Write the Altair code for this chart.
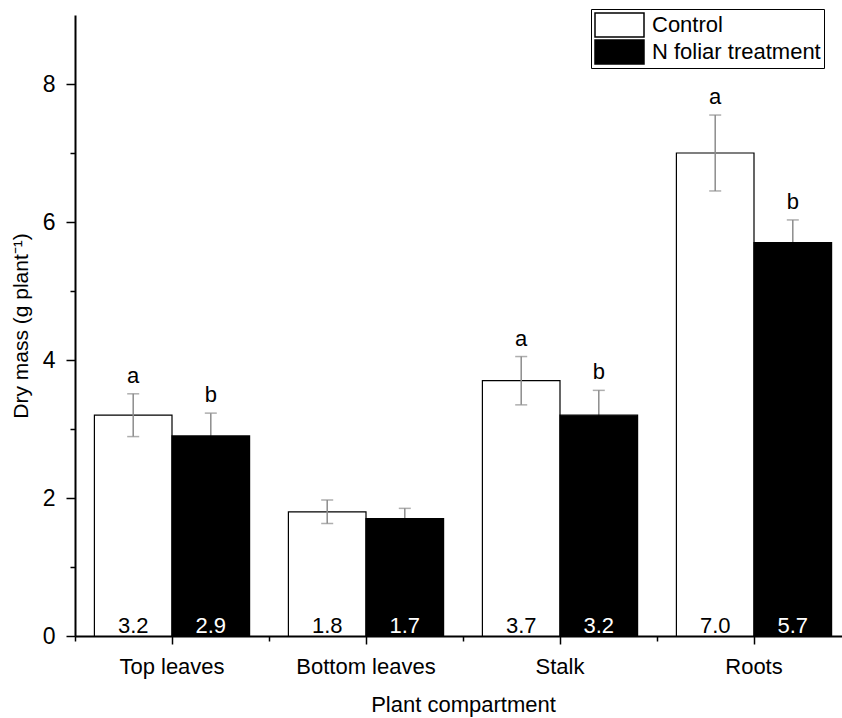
import altair as alt
import pandas as pd

# Dry mass per plant compartment, control vs. N foliar treatment
categories = ["Top leaves", "Bottom leaves", "Stalk", "Roots"]
treatments = ["Control", "N foliar treatment"]
control_mass = [3.2, 1.8, 3.7, 7.0]
foliar_mass = [2.9, 1.7, 3.2, 5.7]
control_err = [0.31, 0.17, 0.35, 0.55]
foliar_err = [0.33, 0.15, 0.36, 0.33]
control_letter = ["a", "", "a", "a"]
foliar_letter = ["b", "", "b", "b"]

rows = []
for i, part in enumerate(categories):
    rows.append(dict(part=part, trt=treatments[0], mass=control_mass[i],
                     err=control_err[i], letter=control_letter[i]))
    rows.append(dict(part=part, trt=treatments[1], mass=foliar_mass[i],
                     err=foliar_err[i], letter=foliar_letter[i]))
df = pd.DataFrame(rows)
df["lo"] = df["mass"] - df["err"]
df["hi"] = df["mass"] + df["err"]
df["label"] = df["mass"].map(lambda v: f"{v:.1f}")

FONT = "Liberation Sans"
ERR = "#8c8c8c"

x_scale = alt.Scale(range=[0, 776], paddingInner=0, paddingOuter=0)
off = alt.XOffset("trt:N", sort=treatments,
                  scale=alt.Scale(paddingInner=0, paddingOuter=0.25))

y_scale = alt.Scale(domain=[0, 9], nice=False, zero=True)
y_axis = alt.Axis(
    values=list(range(0, 9)),
    labelExpr="datum.value % 2 == 0 ? datum.label : ''",
    tickSize={"condition": {"test": "datum.value % 2 == 1", "value": 5}, "value": 9},
    tickColor="black", tickWidth=1.5, domainColor="black", domainWidth=2,
    labelFontSize=23, labelColor="black", labelPadding=11, labelFont=FONT,
    grid=False, title="Dry mass (g plant⁻¹)", titleFontSize=21,
    titleFontWeight="normal", titleColor="black", titleFont=FONT, titlePadding=11,
)


def x_enc(axis=None):
    return alt.X("part:N", sort=categories, scale=x_scale, axis=axis)


def y_enc(field):
    return alt.Y(field, type="quantitative", scale=y_scale, axis=y_axis)


base = alt.Chart(df)

main_x_axis = alt.Axis(
    title="Plant compartment", titleFontSize=22, titleFontWeight="normal",
    titleColor="black", titleFont=FONT, titlePadding=17,
    labelAngle=0, labelFontSize=22, labelColor="black", labelFont=FONT,
    labelPadding=12, tickSize=8, tickColor="black", tickWidth=1.5,
    domainColor="black", domainWidth=2, grid=False, orient="bottom",
)
band_edge_axis = alt.Axis(
    tickBand="extent", labels=False, domain=False, title=None, tickSize=5,
    tickColor="black", tickWidth=1.5, grid=False, orient="bottom",
)

is_control = alt.datum.trt == treatments[0]

foliar_rule = base.transform_filter(~is_control).mark_rule(
    color=ERR, strokeWidth=1.5
).encode(x=x_enc(), xOffset=off, y=y_enc("lo"), y2="hi")
foliar_cap = base.transform_filter(~is_control).mark_tick(
    color=ERR, size=12, thickness=1.5
).encode(x=x_enc(), xOffset=off, y=y_enc("hi"))

bars = base.mark_bar(stroke="black", strokeWidth=1.2).encode(
    x=x_enc(main_x_axis),
    xOffset=off,
    y=y_enc("mass"),
    fill=alt.Fill(
        "trt:N", sort=treatments,
        scale=alt.Scale(domain=treatments, range=["white", "black"]),
        legend=alt.Legend(
            title=None, orient="none", legendX=516, legendY=-6,
            symbolType="M-1,-0.49H1V0.49H-1Z", symbolSize=2401,
            symbolStrokeColor="black", symbolStrokeWidth=1.5,
            labelFontSize=22, labelFont=FONT, labelColor="black",
            labelLimit=400, labelOffset=7, clipHeight=26, rowPadding=1,
            padding=3, strokeColor="black", fillColor="white",
        ),
    ),
)

control_rule = base.transform_filter(is_control).mark_rule(
    color=ERR, strokeWidth=1.5
).encode(x=x_enc(), xOffset=off, y=y_enc("lo"), y2="hi")
control_cap_lo = base.transform_filter(is_control).mark_tick(
    color=ERR, size=12, thickness=1.5
).encode(x=x_enc(), xOffset=off, y=y_enc("lo"))
control_cap_hi = base.transform_filter(is_control).mark_tick(
    color=ERR, size=12, thickness=1.5
).encode(x=x_enc(), xOffset=off, y=y_enc("hi"))

letters = base.mark_text(
    fontSize=22, font=FONT, color="black", dy=-11, baseline="alphabetic"
).encode(x=x_enc(), xOffset=off, y=y_enc("hi"), text="letter:N")

values = base.mark_text(
    fontSize=22, font=FONT, dy=-3, baseline="alphabetic"
).encode(
    x=x_enc(band_edge_axis),
    xOffset=off,
    y=alt.Y(datum=0, type="quantitative", scale=y_scale, axis=y_axis),
    text="label:N",
    color=alt.condition(is_control, alt.value("black"), alt.value("white")),
)

chart = alt.layer(
    foliar_rule, foliar_cap, bars, control_rule, control_cap_lo,
    control_cap_hi, letters, values,
).resolve_axis(x="independent").properties(
    width=767, height=621, autosize="none",
    padding={"left": 75, "top": 15, "right": 0, "bottom": 82},
    background="white",
).configure_view(stroke=None)

chart.save("out.html", embed_options={"renderer": "svg", "actions": False})
